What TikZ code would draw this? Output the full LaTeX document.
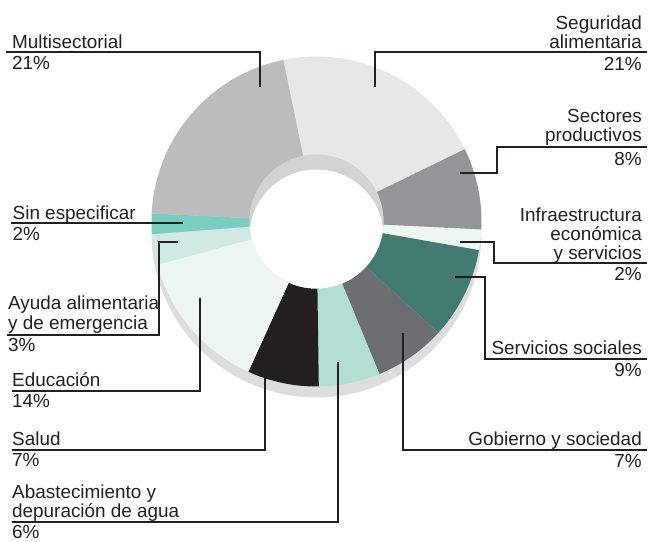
\documentclass[tikz,border=0pt]{standalone}
\usepackage{fontspec}
\setmainfont{Liberation Sans}
\definecolor{inkblack}{HTML}{231F20}
\definecolor{rimgrey}{HTML}{DCDDDE}
\definecolor{holegrey}{HTML}{D1D3D4}
\definecolor{segcol}{HTML}{E6E7E8}
\definecolor{sectcol}{HTML}{939598}
\definecolor{infracol}{HTML}{EEF6F3}
\definecolor{servcol}{HTML}{437A72}
\definecolor{gobcol}{HTML}{6D6E71}
\definecolor{abascol}{HTML}{B2DED6}
\definecolor{saludcol}{HTML}{231F20}
\definecolor{educol}{HTML}{EEF6F3}
\definecolor{ayucol}{HTML}{CFEAE4}
\definecolor{sincol}{HTML}{79CCBF}
\definecolor{multicol}{HTML}{BBBCBE}
\tikzset{
  leader/.style={line width=2pt, color=inkblack},
  lbl/.style={inner sep=0pt, text=inkblack, font=\fontsize{18.9}{19}\selectfont}
}
\begin{document}
\begin{tikzpicture}[x=1pt,y=1pt]
    \useasboundingbox (0,0) rectangle (648,-541);
    % shadow under the ring
    \fill [rimgrey] (316.5,-232.5) circle (165pt);
    \begin{scope}[shift={(316.5,-221.5)}]
    \fill [segcol] (101.6:165pt) arc [start angle=101.6, end angle=26, radius=165pt] -- (26:67pt) arc [start angle=26, end angle=101.6, radius=67pt] -- cycle;
    \fill [sectcol] (26:165pt) arc [start angle=26, end angle=-2.8, radius=165pt] -- (-2.8:67pt) arc [start angle=-2.8, end angle=26, radius=67pt] -- cycle;
    \fill [infracol] (-2.8:165pt) arc [start angle=-2.8, end angle=-10, radius=165pt] -- (-10:67pt) arc [start angle=-10, end angle=-2.8, radius=67pt] -- cycle;
    \fill [servcol] (-10:165pt) arc [start angle=-10, end angle=-42.4, radius=165pt] -- (-42.4:67pt) arc [start angle=-42.4, end angle=-10, radius=67pt] -- cycle;
    \fill [gobcol] (-42.4:165pt) arc [start angle=-42.4, end angle=-67.6, radius=165pt] -- (-67.6:67pt) arc [start angle=-67.6, end angle=-42.4, radius=67pt] -- cycle;
    \fill [abascol] (-67.6:165pt) arc [start angle=-67.6, end angle=-89.2, radius=165pt] -- (-89.2:67pt) arc [start angle=-89.2, end angle=-67.6, radius=67pt] -- cycle;
    \fill [saludcol] (-89.2:165pt) arc [start angle=-89.2, end angle=-114.4, radius=165pt] -- (-114.4:67pt) arc [start angle=-114.4, end angle=-89.2, radius=67pt] -- cycle;
    \fill [educol] (-114.4:165pt) arc [start angle=-114.4, end angle=-164.8, radius=165pt] -- (-164.8:67pt) arc [start angle=-164.8, end angle=-114.4, radius=67pt] -- cycle;
    \fill [ayucol] (-164.8:165pt) arc [start angle=-164.8, end angle=-175.6, radius=165pt] -- (-175.6:67pt) arc [start angle=-175.6, end angle=-164.8, radius=67pt] -- cycle;
    \fill [sincol] (-175.6:165pt) arc [start angle=-175.6, end angle=-182.8, radius=165pt] -- (-182.8:67pt) arc [start angle=-182.8, end angle=-175.6, radius=67pt] -- cycle;
    \fill [multicol] (-182.8:165pt) arc [start angle=-182.8, end angle=-258.4, radius=165pt] -- (-258.4:67pt) arc [start angle=-258.4, end angle=-182.8, radius=67pt] -- cycle;
    % hole
    \fill [holegrey] (0,0) circle (67pt);
    \begin{scope}
    \clip (0,0) circle (67pt);
    \fill [white] (0,-15) circle (67pt);
    \end{scope}
    \end{scope}
    % leader lines
    \coordinate (multi-in) at (260,-87);
    \coordinate (multi-end) at (6,-52.3);
    \coordinate (seg-in) at (375,-87);
    \coordinate (seg-end) at (647,-52.3);
    \coordinate (sect-in) at (460,-173.3);
    \coordinate (sect-knee) at (497,-146.7);
    \coordinate (sect-end) at (647,-146.7);
    \coordinate (infra-in) at (460,-241.7);
    \coordinate (infra-knee) at (494,-263.3);
    \coordinate (infra-end) at (647,-263.3);
    \coordinate (serv-in) at (455,-277);
    \coordinate (serv-knee) at (484.5,-359);
    \coordinate (serv-end) at (647,-359);
    \coordinate (gob-in) at (402.7,-333);
    \coordinate (gob-end) at (647,-450);
    \coordinate (abas-in) at (337.7,-361.7);
    \coordinate (abas-end) at (12,-522.3);
    \coordinate (salud-in) at (265,-378);
    \coordinate (salud-end) at (12,-450);
    \coordinate (edu-in) at (200,-298);
    \coordinate (edu-end) at (12,-390.5);
    \coordinate (ayu-in) at (177.7,-242);
    \coordinate (ayu-knee) at (159,-335);
    \coordinate (ayu-end) at (7,-335);
    \coordinate (sin-in) at (182.7,-222.7);
    \coordinate (sin-end) at (11,-222.7);
    \draw [leader] (multi-in) |- (multi-end);
    \draw [leader] (seg-in) |- (seg-end);
    \draw [leader] (sect-in) -| (sect-knee) -- (sect-end);
    \draw [leader] (infra-in) -| (infra-knee) -- (infra-end);
    \draw [leader] (serv-in) -| (serv-knee) -- (serv-end);
    \draw [leader] (gob-in) |- (gob-end);
    \draw [leader] (abas-in) |- (abas-end);
    \draw [leader] (salud-in) |- (salud-end);
    \draw [leader] (edu-in) |- (edu-end);
    \draw [leader] (ayu-in) -| (ayu-knee) -- (ayu-end);
    \draw [leader] (sin-in) -- (sin-end);
    % labels on the left
    \node (multi-txt) at (12,-48) [lbl, anchor=base west] {Multisectorial};
    \node (multi-pct) at (12,-69.5) [lbl, anchor=base west] {21\%};
    \node (sin-txt) at (12.5,-219) [lbl, anchor=base west] {Sin especificar};
    \node (sin-pct) at (12.5,-240) [lbl, anchor=base west] {2\%};
    \node (ayu-txt) at (8,-329.3) [lbl, anchor=base west, align=left, font=\fontsize{18.9}{20}\selectfont] {Ayuda alimentaria\\y de emergencia};
    \node (ayu-pct) at (8,-351.7) [lbl, anchor=base west] {3\%};
    \node (edu-txt) at (12,-386.7) [lbl, anchor=base west] {Educación};
    \node (edu-pct) at (12,-407.3) [lbl, anchor=base west] {14\%};
    \node (salud-txt) at (12,-445.7) [lbl, anchor=base west] {Salud};
    \node (salud-pct) at (12,-466) [lbl, anchor=base west] {7\%};
    \node (abas-txt) at (12,-517.8) [lbl, anchor=base west, align=left, font=\fontsize{18.9}{14.5}\selectfont] {Abastecimiento y\\depuración de agua};
    \node (abas-pct) at (12,-538.3) [lbl, anchor=base west] {6\%};
    % labels on the right
    \node (seg-txt) at (642,-48) [lbl, anchor=base east, align=right, font=\fontsize{18.9}{18.5}\selectfont] {Seguridad\\alimentaria};
    \node (seg-pct) at (642,-70.5) [lbl, anchor=base east] {21\%};
    \node (sect-txt) at (642,-141.7) [lbl, anchor=base east, align=right] {Sectores\\productivos};
    \node (sect-pct) at (642,-165.5) [lbl, anchor=base east] {8\%};
    \node (infra-txt) at (642,-259.5) [lbl, anchor=base east, align=right] {Infraestructura\\económica\\y servicios};
    \node (infra-pct) at (642,-280.5) [lbl, anchor=base east] {2\%};
    \node (serv-txt) at (642,-354.5) [lbl, anchor=base east] {Servicios sociales};
    \node (serv-pct) at (642,-376.5) [lbl, anchor=base east] {9\%};
    \node (gob-txt) at (642,-445.7) [lbl, anchor=base east] {Gobierno y sociedad};
    \node (gob-pct) at (642,-467) [lbl, anchor=base east] {7\%};
\end{tikzpicture}
\end{document}
